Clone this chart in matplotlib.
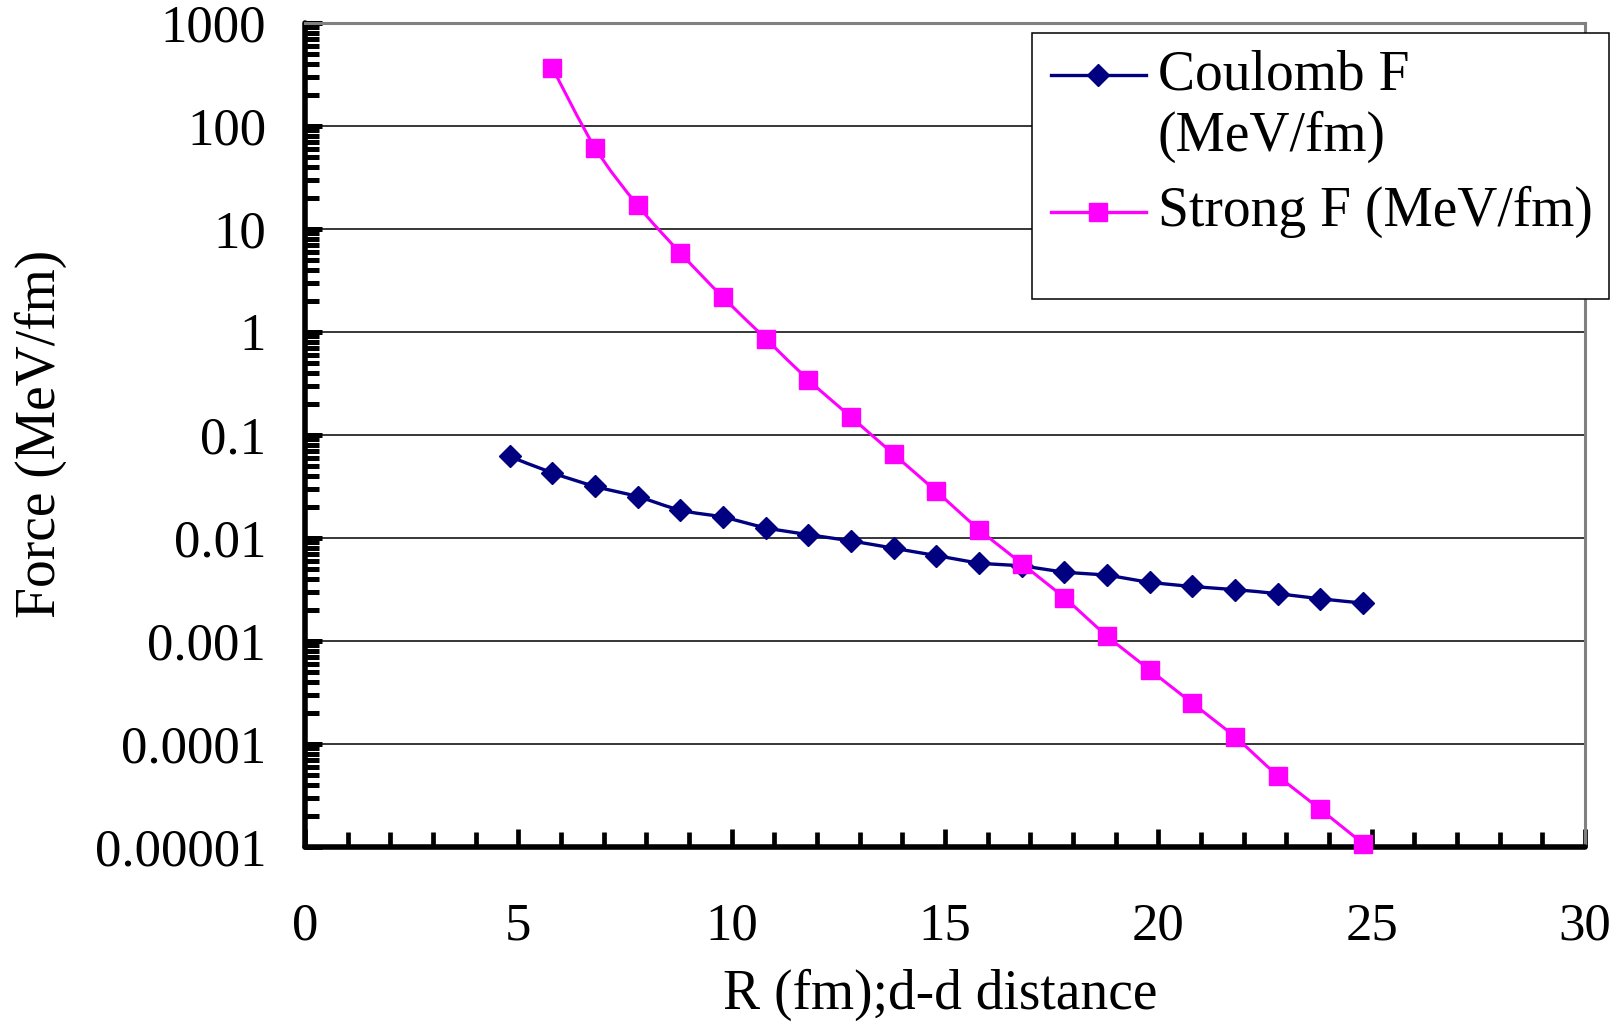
import numpy as np
import matplotlib
matplotlib.use("Agg")
import matplotlib.pyplot as plt
from matplotlib.path import Path
from matplotlib.patches import PathPatch, Rectangle
from matplotlib.lines import Line2D
from matplotlib.ticker import FixedLocator, FixedFormatter, MultipleLocator

plt.rcParams['font.family'] = ['Liberation Serif', 'DejaVu Serif']

# --- data -------------------------------------------------------------
r_coulomb = [4.8, 5.8, 6.8, 7.8, 8.8, 9.8, 10.8, 11.8, 12.8, 13.8, 14.8,
             15.8, 16.8, 17.8, 18.8, 19.8, 20.8, 21.8, 22.8, 23.8, 24.8]
f_coulomb = [0.0615, 0.0426, 0.0315, 0.025, 0.0185, 0.0158, 0.0125, 0.0107,
             0.0093, 0.0079, 0.0067, 0.0057, 0.0053, 0.00465, 0.0043, 0.0037,
             0.00336, 0.00313, 0.00286, 0.00255, 0.00232]

r_strong = [5.8, 6.8, 7.8, 8.8, 9.8, 10.8, 11.8, 12.8, 13.8, 14.8, 15.8,
            16.8, 17.8, 18.8, 19.8, 20.8, 21.8, 22.8, 23.8, 24.8]
f_strong = [362, 61, 16.8, 5.8, 2.15, 0.855, 0.34, 0.148, 0.0645, 0.0281,
            0.012, 0.0056, 0.0026, 0.00111, 0.00052, 0.000247, 0.000116,
            4.9e-5, 2.3e-5, 1.07e-5]

y_tick_values = [1e-5, 1e-4, 1e-3, 1e-2, 1e-1, 1, 10, 100, 1000]
y_tick_labels = ["0.00001", "0.0001", "0.001", "0.01", "0.1", "1", "10",
                 "100", "1000"]
x_tick_values = [0, 5, 10, 15, 20, 25, 30]

label_coulomb = ["Coulomb F", "(MeV/fm)"]
label_strong = "Strong F (MeV/fm)"
x_label = "R (fm);d-d distance"
y_label = "Force (MeV/fm)"

NAVY = "#000080"
MAGENTA = "#FF00FF"

W, H = 1619, 1026
fig = plt.figure(figsize=(W / 100, H / 100), dpi=100)
ax = fig.add_axes([305 / W, 1 - 846.7 / H, 1280 / W, 824 / H])


def smooth_path(xs, ys):
    """Catmull-Rom style Bezier through the points, built in (x, log y)."""
    xs = np.asarray(xs, float)
    ly = np.log10(np.asarray(ys, float))
    pts = np.column_stack([xs, ly])
    n = len(pts)
    verts = [pts[0]]
    codes = [Path.MOVETO]
    for i in range(n - 1):
        p0 = pts[i - 1] if i > 0 else pts[i]
        p1 = pts[i]
        p2 = pts[i + 1]
        p3 = pts[i + 2] if i + 2 < n else pts[i + 1]
        c1 = p1 + (p2 - p0) / 6.0
        c2 = p2 - (p3 - p1) / 6.0
        verts += [c1, c2, p2]
        codes += [Path.CURVE4] * 3
    verts = np.array(verts)
    verts[:, 1] = 10 ** verts[:, 1]
    return Path(verts, codes)


ax.set_xscale('linear')
ax.set_yscale('log')
ax.set_xlim(0, 30)
ax.set_ylim(1e-5, 1000)

# gridlines at each decade
ax.yaxis.set_major_locator(FixedLocator(y_tick_values))
ax.yaxis.set_major_formatter(FixedFormatter(y_tick_labels))
minor = [m * 10.0 ** e for e in range(-5, 3) for m in range(2, 10)]
ax.yaxis.set_minor_locator(FixedLocator(minor))
ax.xaxis.set_major_locator(FixedLocator(x_tick_values))
ax.xaxis.set_minor_locator(MultipleLocator(1))
ax.grid(True, which='major', axis='y', color='black', lw=1.1, zorder=1)

# series lines (smoothed) and markers
for xs, ys, col, lw in [(r_coulomb, f_coulomb, NAVY, 2.4),
                        (r_strong, f_strong, MAGENTA, 2.2)]:
    ax.add_patch(PathPatch(smooth_path(xs, ys), fill=False, edgecolor=col,
                           lw=lw, transform=ax.transData, zorder=3,
                           capstyle='round', joinstyle='round'))
ax.plot(r_coulomb, f_coulomb, ls='none', marker='D', ms=11.0, color=NAVY,
        mec=NAVY, mew=1, zorder=4, clip_on=False)
ax.plot(r_strong, f_strong, ls='none', marker='s', ms=13.0, color=MAGENTA,
        mec=MAGENTA, mew=1, zorder=5, clip_on=False)

# spines
for s in ['left', 'bottom']:
    ax.spines[s].set_color('black')
    ax.spines[s].set_linewidth(4)
    ax.spines[s].set_capstyle('round')
for s in ['top', 'right']:
    ax.spines[s].set_color('#808080')
    ax.spines[s].set_linewidth(2.2)

ax.tick_params(axis='y', which='major', direction='in', length=12, width=3.6,
               labelsize=38, pad=28, colors='black')
ax.tick_params(axis='y', which='minor', direction='in', length=10, width=3.6)
ax.tick_params(axis='x', which='major', direction='in', length=13, width=3.4,
               labelsize=38, pad=40, colors='black')
ax.tick_params(axis='x', which='minor', direction='in', length=11, width=3.4)
ax.tick_params(right=False, top=False, which='both')

ax.set_xlabel(x_label, fontsize=40, va='center', ha='center')
ax.xaxis.set_label_coords((940 - 305) / 1280, (846.7 - 995) / 824)
ax.set_ylabel(y_label, fontsize=40, va='center', ha='center')
ax.yaxis.set_label_coords((41 - 305) / 1280, (846.7 - 434) / 824)


# legend box drawn in figure pixel space
def fp(x, y):
    return x / W, 1 - y / H


x0, y0 = fp(1032, 299)
x1, y1 = fp(1609, 33)
fig.patches.append(Rectangle((x0, y0), x1 - x0, y1 - y0, transform=fig.transFigure,
                             facecolor='white', edgecolor='black', lw=1.1,
                             zorder=10))
for y_px, col, mk, ms in [(75, NAVY, 'D', 11.0), (212, MAGENTA, 's', 13.0)]:
    xa, ya = fp(1051, y_px)
    xb, _ = fp(1146, y_px)
    xm, _ = fp(1098, y_px)
    fig.lines.append(Line2D([xa, xb], [ya, ya], color=col, lw=2.4,
                            transform=fig.transFigure, zorder=11))
    fig.lines.append(Line2D([xm], [ya], color=col, marker=mk, ms=ms, mew=1,
                            transform=fig.transFigure, zorder=12))

for (xp, yp), txt in [((1158, 75), label_coulomb[0]),
                      ((1158, 137), label_coulomb[1]),
                      ((1158, 212), label_strong)]:
    tx, ty = fp(xp, yp)
    fig.text(tx, ty, txt, fontsize=40, ha='left', va='center', zorder=13)

fig.savefig("out.png", dpi=100)
